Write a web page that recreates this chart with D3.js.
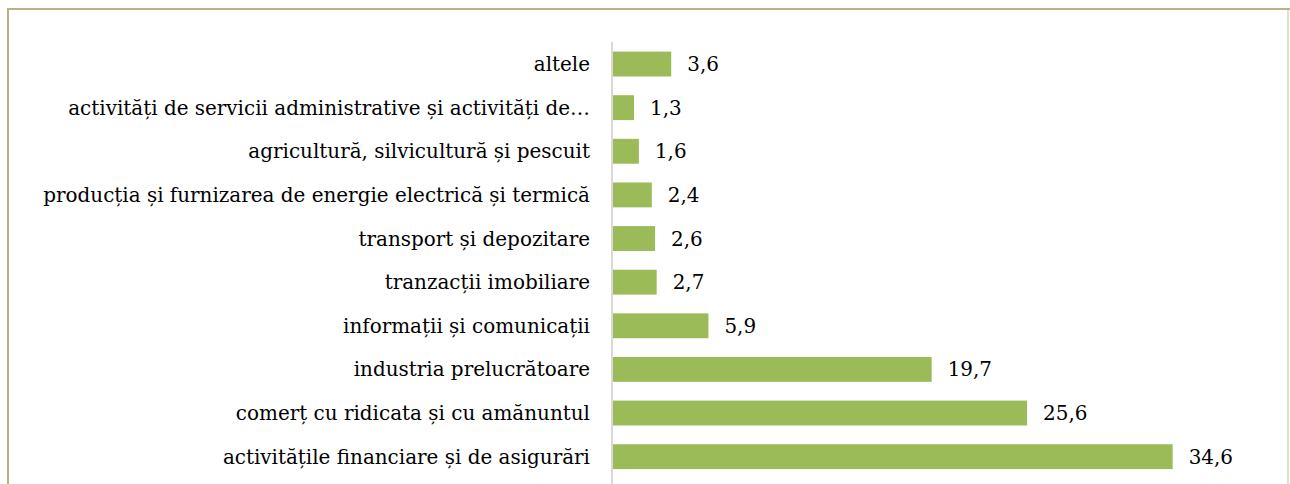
<!DOCTYPE html>
<html>
<head>
<meta charset="utf-8">
<script src="https://cdn.jsdelivr.net/npm/d3@7"></script>
<style>
body { margin: 0; background: #fff; }
</style>
</head>
<body>
<script>
var w = 1290;
var h = 484;

// categories top to bottom
var categories = [
    "altele",
    "activități de servicii administrative și activități de…",
    "agricultură, silvicultură și pescuit",
    "producția și furnizarea de energie electrică și termică",
    "transport și depozitare",
    "tranzacții imobiliare",
    "informații și comunicații",
    "industria prelucrătoare",
    "comerț cu ridicata și cu amănuntul",
    "activitățile financiare și de asigurări"
];
var values = [3.6, 1.3, 1.6, 2.4, 2.6, 2.7, 5.9, 19.7, 25.6, 34.6];
var valueLabels = ["3,6", "1,3", "1,6", "2,4", "2,6", "2,7", "5,9", "19,7", "25,6", "34,6"];

var svg = d3.select("body")
    .append("svg")
    .attr("width", w)
    .attr("height", h);

// frame (right side is lighter)
svg.append("rect")
    .attr("x", 8)
    .attr("y", 9)
    .attr("width", 1300)
    .attr("height", 520)
    .attr("fill", "none")
    .attr("stroke", "#BDB287")
    .attr("stroke-width", 2);
svg.append("line")
    .attr("x1", 1288).attr("x2", 1288)
    .attr("y1", 10).attr("y2", h)
    .attr("stroke", "#E3DFCC")
    .attr("stroke-width", 2);

var x = d3.scaleLinear()
    .domain([0, 40])
    .range([613, 613 + 647]);

var y = d3.scaleBand()
    .domain(categories)
    .range([42, 42 + 43.67 * 10])
    .paddingInner(0.43)
    .paddingOuter(0.22);

// axis line
svg.append("line")
    .attr("x1", 612).attr("x2", 612)
    .attr("y1", 42).attr("y2", h)
    .attr("stroke", "#D9D9D9")
    .attr("stroke-width", 2);

svg.selectAll("rect.bar")
    .data(values)
    .enter()
    .append("rect")
    .attr("class", "bar")
    .attr("x", x(0))
    .attr("y", function (d, i) {
        return y(categories[i]);
    })
    .attr("width", function (d) {
        return x(d) - x(0);
    })
    .attr("height", y.bandwidth())
    .attr("fill", "#9BBB59");

var font = "DejaVu Serif, Liberation Serif, serif";

var cats = svg.selectAll("text.cat")
    .data(categories)
    .enter()
    .append("text")
    .attr("class", "cat")
    .text(function (d) {
        return d;
    })
    .attr("x", 590)
    .attr("y", function (d) {
        return y(d) + y.bandwidth() / 2;
    })
    .attr("dy", "0.35em")
    .attr("text-anchor", "end")
    .attr("font-family", font)
    .attr("font-size", 20)
    .attr("fill", "#000");

// fit the longest label to the width seen in the original (about 547px)
var longest = cats.filter(function (d, i) { return i == 3; }).node().getComputedTextLength();
var fs = 20 * 547 / longest;
cats.attr("font-size", fs);

svg.selectAll("text.val")
    .data(values)
    .enter()
    .append("text")
    .attr("class", "val")
    .text(function (d, i) {
        return valueLabels[i];
    })
    .attr("x", function (d) {
        return x(d) + 16;
    })
    .attr("y", function (d, i) {
        return y(categories[i]) + y.bandwidth() / 2;
    })
    .attr("dy", "0.35em")
    .attr("font-family", font)
    .attr("font-size", fs)
    .attr("fill", "#000");
</script>
</body>
</html>
